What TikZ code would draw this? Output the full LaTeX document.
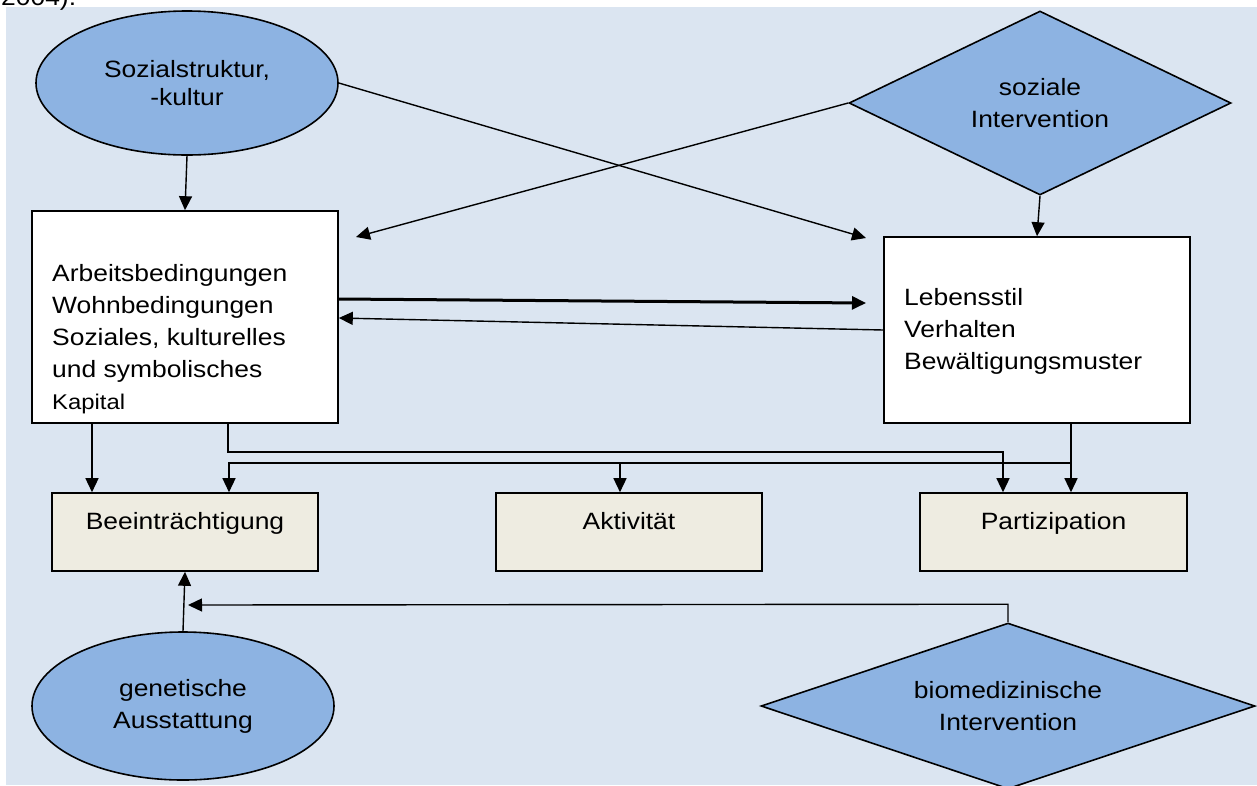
\documentclass[tikz,border=0pt]{standalone}
\usepackage{fontspec}
\setmainfont{Liberation Sans}[FakeStretch=1.12]
\usetikzlibrary{arrows.meta,shapes.geometric,calc}
\definecolor{bgblue}{HTML}{DBE5F1}
\definecolor{shapeblue}{HTML}{8DB3E2}
\definecolor{boxbeige}{HTML}{EEECE1}
\tikzset{
  every node/.style={font=\fontsize{23.6}{32}\selectfont},
  oval/.style={ellipse, draw, line width=1.6pt, fill=shapeblue, inner sep=0pt, align=center},
  rhomb/.style={diamond, aspect=2, draw, line width=1.6pt, fill=shapeblue, inner sep=0pt, align=center},
  whitebox/.style={rectangle, draw, line width=1.6pt, fill=white, inner sep=0pt},
  outbox/.style={rectangle, draw, line width=1.6pt, fill=boxbeige, inner sep=0pt,
    minimum width=266pt, minimum height=78pt, text height=10pt, text depth=16pt},
  boxtext/.style={anchor=north west, inner sep=0pt, align=left},
  arr/.style={-{Triangle[length=14pt,width=13pt]}, line width=1.4pt},
  thickarr/.style={arr, line width=3pt}
}
\begin{document}
\begin{tikzpicture}[x=1pt,y=-1pt]
\useasboundingbox (0,0) rectangle (1257,785);
\clip (0,0) rectangle (1257,785);
\fill[bgblue] (6,7) rectangle (1257,785);
\node[anchor=base west, inner sep=0pt] (cite) at (1,5) {2004).};

% shapes
\node[oval, minimum width=302pt, minimum height=144pt, font=\fontsize{23.6}{28}\selectfont] (soz) at (187,83) {Sozialstruktur,\\-kultur};
\node[rhomb, minimum width=382pt, minimum height=184pt] (sint) at (1040,103) {soziale\\Intervention};
\node[whitebox, minimum width=306pt, minimum height=212pt] (arb) at (185,317) {};
\node[whitebox, minimum width=306pt, minimum height=186pt] (leb) at (1037,330) {};
\node[boxtext] (arbtext) at (52,264) {Arbeitsbedingungen\\Wohnbedingungen\\Soziales, kulturelles\\und symbolisches\\{\fontsize{21.3}{32}\selectfont Kapital}};
\node[boxtext] (lebtext) at (904,288) {Lebensstil\\Verhalten\\Bew\"altigungsmuster};
\node[outbox] (bee) at (185,532) {Beeintr\"achtigung};
\node[outbox] (akt) at (629,532) {Aktivit\"at};
\node[outbox, minimum width=267pt] (part) at (1053.5,532) {Partizipation};
\node[oval, minimum width=302pt, minimum height=148pt] (gen) at (183,706) {genetische\\Ausstattung};
\node[rhomb, minimum width=494pt, minimum height=166pt] (bio) at (1008,706) {biomedizinische\\Intervention};

% free ends
\coordinate (t1) at (866,238);
\coordinate (t2) at (356,237);
\coordinate (t3) at (866,303);
\coordinate (j) at (1071,463);
\coordinate (t4) at (188,605);

% connectors
\draw[arr] (soz.south) -- (arb.north);
\draw[arr] (soz.east) -- (t1);
\draw[arr] (sint.west) -- (t2);
\draw[arr] (sint.south) -- (leb.north);
\draw[thickarr] ([yshift=18pt]arb.east) -- (t3);
\draw[arr] (leb.west) -- ([yshift=-1pt]arb.east);
\draw[arr] ([xshift=-93pt]arb.south) -- ([xshift=-93pt]arb.south |- bee.north);
\draw[arr] ([xshift=43pt]arb.south) -- ++(0,28) -| ([xshift=-50.5pt]part.north);
\draw[arr] ([xshift=34pt]leb.south) -- ([xshift=17.5pt]part.north);
\draw[arr] (j) -| ([xshift=44pt]bee.north);
\draw[arr] ([xshift=-9pt]akt.north |- j) -- ([xshift=-9pt]akt.north);
\draw[arr] (gen.north) -- (bee.south);
\draw[arr] (bio.north) -- ++(0,-18) -- (t4);
\end{tikzpicture}
\end{document}
